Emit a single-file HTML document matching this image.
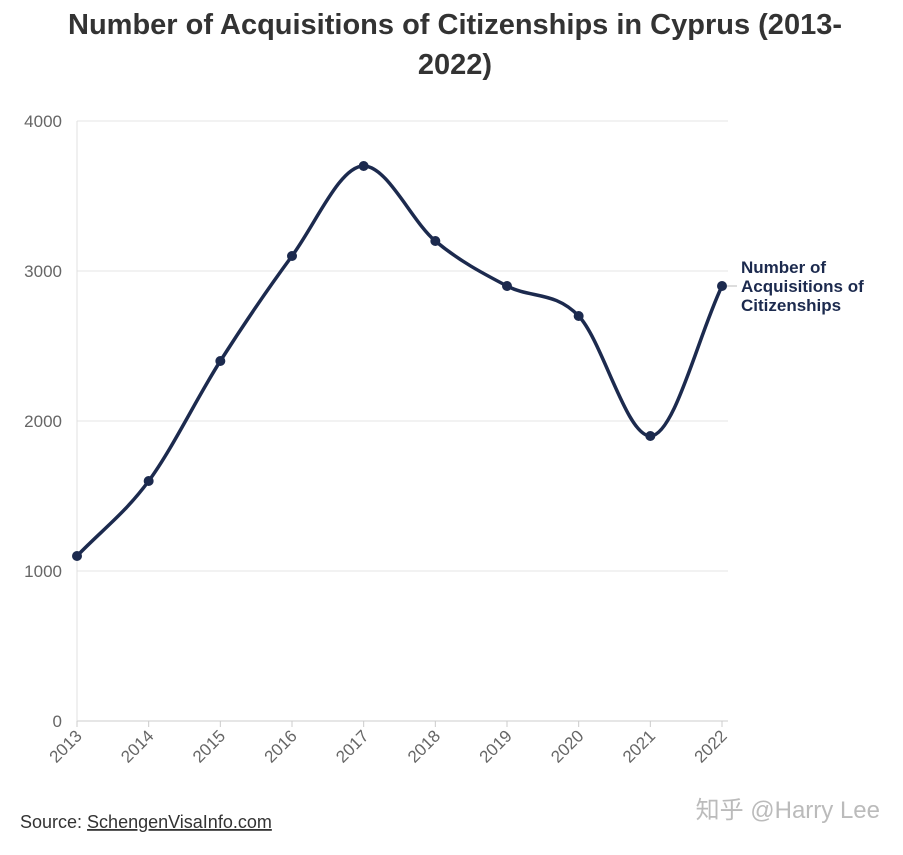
<!DOCTYPE html>
<html><head><meta charset="utf-8"><style>
body{margin:0;background:#fff;width:903px;height:850px;overflow:hidden;font-family:"Liberation Sans","Noto Sans CJK SC",sans-serif}
</style></head><body>
<svg width="903" height="850" font-family="Liberation Sans, Noto Sans CJK SC, sans-serif">
<text x="455" y="34" text-anchor="middle" font-size="29" font-weight="bold" fill="#333">Number of Acquisitions of Citizenships in Cyprus (2013-</text>
<text x="455" y="74" text-anchor="middle" font-size="29" font-weight="bold" fill="#333">2022)</text>
<g id="grid"></g><g id="axes"></g><g id="series"></g>
<text x="741" y="273" font-size="17" font-weight="bold" fill="#1c2a4e"><tspan x="741">Number of</tspan><tspan x="741" dy="19">Acquisitions of</tspan><tspan x="741" dy="19">Citizenships</tspan></text>
<line x1="727" y1="286" x2="737" y2="286" stroke="#bbb"/>
<text x="20" y="828" font-size="18" fill="#333">Source: <tspan text-decoration="underline">SchengenVisaInfo.com</tspan></text>
<text x="880" y="818" text-anchor="end" font-size="24" fill="#bbb">知乎 @Harry Lee</text>
</svg>
<script>
const categories=["2013","2014","2015","2016","2017","2018","2019","2020","2021","2022"];
const values=[1100,1600,2400,3100,3700,3200,2900,2700,1900,2900];
const yTicks=[0,1000,2000,3000,4000];
const NS="http://www.w3.org/2000/svg";
const x0=77,x1=722,y0=721,y1=121,yMax=4000;
const xs=i=>x0+i*(x1-x0)/(categories.length-1);
const ys=v=>y0-(v/yMax)*(y0-y1);
function mk(t,a,p){const e=document.createElementNS(NS,t);for(const k in a)e.setAttribute(k,a[k]);document.getElementById(p).appendChild(e);return e;}
yTicks.forEach(t=>{
 const l=mk('line',{x1:x0,x2:728,y1:ys(t),y2:ys(t),stroke:t===0?'#ccc':'#e6e6e6'},'grid');
 
 
 const tx=mk('text',{x:62,y:ys(t)+6,'text-anchor':'end','font-size':17,fill:'#666'},'axes');tx.textContent=t;
 
 
});
const ya=mk('line',{x1:x0,x2:x0,y1:y1,y2:y0,stroke:'#e0e0e0'},'axes');


categories.forEach((c,i)=>{
 const t=mk('line',{x1:xs(i),x2:xs(i),y1:y0,y2:y0+6,stroke:'#ccc'},'axes');
 
 
 const tx=mk('text',{x:xs(i)+6,y:y0+16,'text-anchor':'end','font-size':17,fill:'#666',transform:`rotate(-45 ${xs(i)+6} ${y0+16})`},'axes');tx.textContent=c;
 
 
});
// monotone cubic
const P=values.map((v,i)=>[xs(i),ys(v)]);const n=P.length;
const d=[],m=[];for(let i=0;i<n-1;i++)d.push((P[i+1][1]-P[i][1])/(P[i+1][0]-P[i][0]));
for(let i=0;i<n;i++){if(i===0)m.push(d[0]);else if(i===n-1)m.push(d[n-2]);else m.push(d[i-1]*d[i]<=0?0:(d[i-1]+d[i])/2);}
for(let i=0;i<n-1;i++){if(d[i]===0){m[i]=m[i+1]=0;continue;}const a=m[i]/d[i],b=m[i+1]/d[i],s=a*a+b*b;if(s>9){const t=3/Math.sqrt(s);m[i]=t*a*d[i];m[i+1]=t*b*d[i];}}
let path=`M${P[0][0]},${P[0][1]}`;
for(let i=0;i<n-1;i++){const h=(P[i+1][0]-P[i][0])/3;path+=`C${P[i][0]+h},${P[i][1]+m[i]*h} ${P[i+1][0]-h},${P[i+1][1]-m[i+1]*h} ${P[i+1][0]},${P[i+1][1]}`;}
const ln=mk('path',{d:path,fill:'none',stroke:'#1c2a4e','stroke-width':3.5},'series');


P.forEach(p=>{const c=mk('circle',{cx:p[0],cy:p[1],r:5,fill:'#1c2a4e'},'series');
 
 });
</script>
</body></html>
